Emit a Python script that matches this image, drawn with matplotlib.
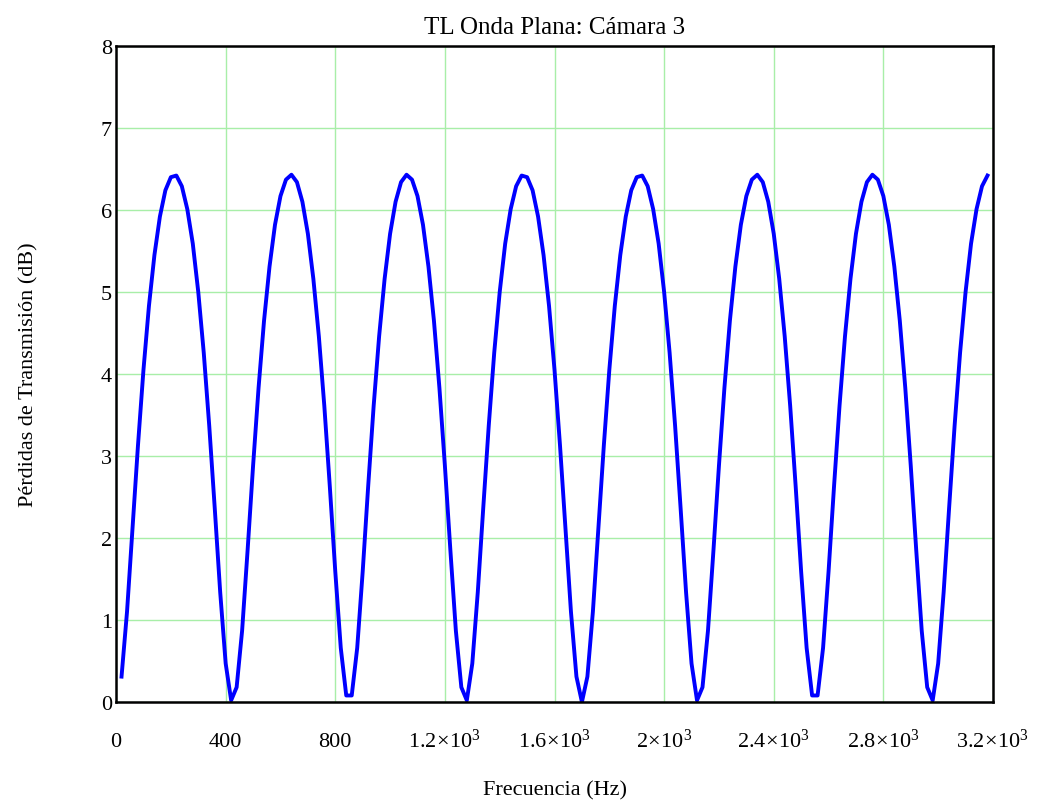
import numpy as np
import matplotlib
matplotlib.use("Agg")
import matplotlib.pyplot as plt

frecuencia = np.arange(20, 3181, 20)
tl = [
    0.31, 1.10, 2.11, 3.13, 4.05, 4.83, 5.45, 5.92, 6.24, 6.40,
    6.42, 6.29, 6.01, 5.59, 5.00, 4.26, 3.37, 2.37, 1.34, 0.47, 0.02,
    0.18, 0.87, 1.85, 2.88, 3.83, 4.65, 5.31, 5.82, 6.17, 6.37,
    6.43,
    6.34, 6.10, 5.71, 5.16, 4.46, 3.61, 2.63, 1.59, 0.66, 0.08,
    0.08, 0.66, 1.59, 2.63, 3.61, 4.46, 5.16, 5.71, 6.10, 6.34, 6.43,
    6.37, 6.17, 5.82, 5.31, 4.65, 3.83, 2.88, 1.85, 0.87, 0.18,
    0.02, 0.47, 1.34, 2.37, 3.37, 4.26, 5.00, 5.59, 6.01, 6.29, 6.42,
    6.40, 6.24, 5.92, 5.45, 4.83, 4.05, 3.13, 2.11, 1.10, 0.31, 0.00,
    # segundo bloque
    0.31, 1.10, 2.11, 3.13, 4.05, 4.83, 5.45, 5.92, 6.24, 6.40,
    6.42, 6.29, 6.01, 5.59, 5.00, 4.26, 3.37, 2.37, 1.34, 0.47, 0.02,
    0.18, 0.87, 1.85, 2.88, 3.83, 4.65, 5.31, 5.82, 6.17, 6.37,
    6.43,
    6.34, 6.10, 5.71, 5.16, 4.46, 3.61, 2.63, 1.59, 0.66, 0.08,
    0.08, 0.66, 1.59, 2.63, 3.61, 4.46, 5.16, 5.71, 6.10, 6.34, 6.43,
    6.37, 6.17, 5.82, 5.31, 4.65, 3.83, 2.88, 1.85, 0.87, 0.18,
    0.02, 0.47, 1.34, 2.37, 3.37, 4.26, 5.00, 5.59, 6.01, 6.29, 6.42,
]

xticks = [0, 400, 800, 1200, 1600, 2000, 2400, 2800, 3200]
xlabels = ["0", "400", "800", r"$1.2\!\times\!10^{3}$", r"$1.6\!\times\!10^{3}$",
           r"$2\!\times\!10^{3}$", r"$2.4\!\times\!10^{3}$", r"$2.8\!\times\!10^{3}$",
           r"$3.2\!\times\!10^{3}$"]
yticks = [0, 1, 2, 3, 4, 5, 6, 7, 8]

plt.rcParams['font.family'] = ['Liberation Serif', 'DejaVu Serif']
plt.rcParams['mathtext.fontset'] = 'custom'
plt.rcParams['mathtext.rm'] = 'Liberation Serif'
plt.rcParams['mathtext.it'] = 'Liberation Serif'

fig = plt.figure(figsize=(10.39, 8.03), dpi=100)
ax = fig.add_axes([0.1117, 0.1245, 0.8440, 0.8170])

ax.plot(frecuencia, tl, color='#0000ff', lw=2.8, solid_joinstyle='round')

ax.set_xlim(0, 3200)
ax.set_ylim(0, 8)
ax.set_xticks(xticks)
ax.set_xticklabels(xlabels)
ax.set_yticks(yticks)
ax.grid(True, color='#a8eea8', lw=1.0)
ax.set_axisbelow(True)
ax.tick_params(axis='both', length=0, labelsize=16)
ax.tick_params(axis='x', pad=32)
ax.tick_params(axis='y', pad=3)
for lab in ax.get_xticklabels():
    lab.set_verticalalignment('baseline')
for s in ax.spines.values():
    s.set_linewidth(1.8)
    s.set_color('black')

ax.set_title("TL Onda Plana: Cámara 3", fontsize=18, pad=9)
ax.set_xlabel("Frecuencia (Hz)", fontsize=16, labelpad=21)
ax.set_ylabel("Pérdidas de Transmisión (dB)", fontsize=16, labelpad=45)

fig.savefig("out.png", dpi=100)
